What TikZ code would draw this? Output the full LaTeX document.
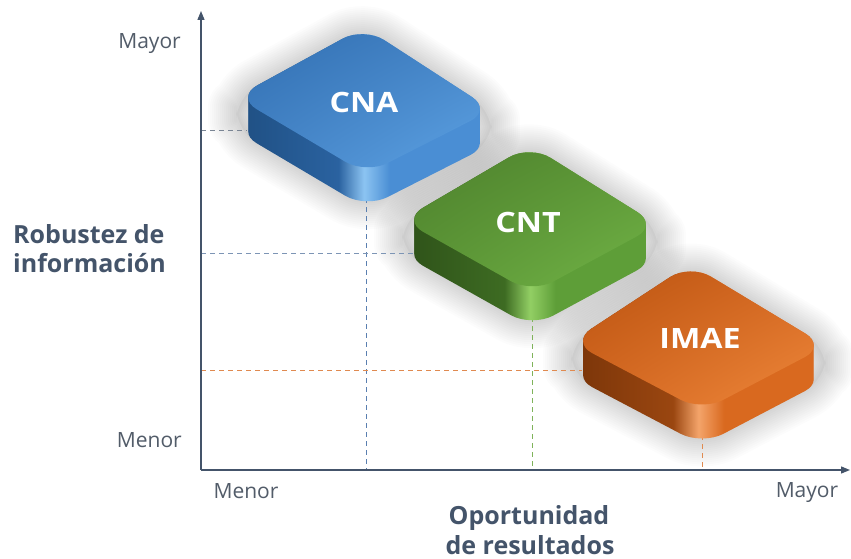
\documentclass[tikz,border=0pt]{standalone}
\usepackage{fontspec}
\setmainfont{Open Sans}
\newfontfamily\boxfont[FakeStretch=1.15]{Open Sans}
\usetikzlibrary{arrows.meta,calc,shadings}

\definecolor{axiscol}{HTML}{44546A}
\definecolor{lblcol}{HTML}{525C69}
% CNA (blue)
\definecolor{cnadark}{HTML}{1F4F82}
\definecolor{cnadarkb}{HTML}{2A62A0}
\definecolor{cnahi}{HTML}{8CC4F2}
\definecolor{cnamid}{HTML}{4A8ED4}
\definecolor{cnatopa}{HTML}{2F6DB0}
\definecolor{cnatopb}{HTML}{4584C6}
\definecolor{cnatopc}{HTML}{5EA4E6}
% CNT (green)
\definecolor{cntdark}{HTML}{2E5119}
\definecolor{cntdarkb}{HTML}{3D6B22}
\definecolor{cnthi}{HTML}{92CF64}
\definecolor{cntmid}{HTML}{5E9E38}
\definecolor{cnttopa}{HTML}{4C7F2C}
\definecolor{cnttopb}{HTML}{5C9636}
\definecolor{cnttopc}{HTML}{73B648}
% IMAE (orange)
\definecolor{imadark}{HTML}{7A3509}
\definecolor{imadarkb}{HTML}{9A4610}
\definecolor{imahi}{HTML}{F4A46A}
\definecolor{imamid}{HTML}{D9691F}
\definecolor{imatopa}{HTML}{B8520F}
\definecolor{imatopb}{HTML}{D56822}
\definecolor{imatopc}{HTML}{F08A3C}
% guide line colours
\definecolor{cnahline}{HTML}{7A8594}
\definecolor{cnavline}{HTML}{5A7FB0}
\definecolor{cnthline}{HTML}{7D95B5}
\definecolor{cntvline}{HTML}{7FB35A}
\definecolor{imaline}{HTML}{E08A50}

\pgfdeclarehorizontalshading{cnaside}{100bp}{color(0bp)=(cnadark); color(25bp)=(cnadark); color(45bp)=(cnadarkb); color(50bp)=(cnahi); color(55bp)=(cnamid); color(75bp)=(cnamid); color(100bp)=(cnamid)}
\pgfdeclarehorizontalshading{cntside}{100bp}{color(0bp)=(cntdark); color(25bp)=(cntdark); color(45bp)=(cntdarkb); color(50bp)=(cnthi); color(55bp)=(cntmid); color(75bp)=(cntmid); color(100bp)=(cntmid)}
\pgfdeclarehorizontalshading{imaside}{100bp}{color(0bp)=(imadark); color(25bp)=(imadark); color(45bp)=(imadarkb); color(50bp)=(imahi); color(55bp)=(imamid); color(75bp)=(imamid); color(100bp)=(imamid)}

\tikzset{
  axisline/.style={axiscol, line width=1.3pt, -{Triangle[length=9pt,width=7pt]}},
  guideline/.style={line width=1pt, dash pattern=on 5pt off 4pt},
  ticklbl/.style={text=lblcol, font=\fontsize{21}{25}\selectfont, inner sep=0pt},
  axislbl/.style={text=axiscol, font=\bfseries\fontsize{25}{29}\selectfont, inner sep=0pt},
  boxlbl/.style={text=white, font=\boxfont\bfseries\fontsize{28}{30}\selectfont, inner sep=0pt},
  slabround/.style={rounded corners=24pt},
}

% corners of a slab: left, top, right, bottom (top face), before rounding
\newcommand\slabcorners[9]{%
  \coordinate (#9L) at (#1,#2);
  \coordinate (#9T) at (#3,#4);
  \coordinate (#9R) at (#5,#6);
  \coordinate (#9B) at (#7,#8);
  \coordinate (#9Lb) at (#1,{#2+34});
  \coordinate (#9Rb) at (#5,{#6+34});
  \coordinate (#9Bb) at (#7,{#8+34});
  \coordinate (#9V) at (#7,{#8+24});
}
\newcommand\slabshadow[1]{%
  \fill[black, opacity=0.03, slabround, shift={(8,14)}]
      (#1L) -- (#1T) -- (#1R) -- (#1Rb) -- (#1Bb) -- (#1Lb) -- cycle;
  \foreach \w in {56,52,...,4}{
    \draw[black, draw opacity=0.011, line width=\w pt, line join=round, slabround, shift={(8,14)}]
      (#1L) -- (#1T) -- (#1R) -- (#1Rb) -- (#1Bb) -- (#1Lb) -- cycle;
  }
}
\newcommand\slab[1]{%
  \shade[shading=#1side, slabround]
    \foreach \i in {0,1,...,34}{ ($(#1L)+(0,\i)$) -- ($(#1T)+(0,\i)$) -- ($(#1R)+(0,\i)$) -- ($(#1B)+(0,\i)$) -- cycle };
  \shade[upper left=#1topa, upper right=#1topb, lower left=#1topb, lower right=#1topc, slabround]
    (#1L) -- (#1T) -- (#1R) -- (#1B) -- cycle;
}

\begin{document}
\begin{tikzpicture}[x=1pt,y=-1pt]
\useasboundingbox (0,0) rectangle (851,559);
\fill[white] (0,0) rectangle (851,559);

% axes
\coordinate (O) at (201,470);
\coordinate (ytip) at (201,11);
\coordinate (xtip) at (850,470);

% slab geometry
\slabcorners{236}{97}{364}{27}{492}{110}{366}{174}{cna}
\slabcorners{402}{220}{530}{145}{658}{225}{532}{293}{cnt}
\slabcorners{571}{342}{690}{264}{826}{346}{702}{411}{ima}

% guide points
\coordinate (cnaH) at (247,131);
\coordinate (cntH) at (413,253);
\coordinate (imaH) at (582,370);

% shadows
\slabshadow{cna}
\slabshadow{cnt}
\slabshadow{ima}

% dashed guide lines
\draw[guideline, cnahline] (O |- cnaH) -- (cnaH);
\draw[guideline, cnavline] (cnaV) -- (cnaV |- O);
\draw[guideline, cnthline] (O |- cntH) -- (cntH);
\draw[guideline, cntvline] (cntV) -- (cntV |- O);
\draw[guideline, imaline] (O |- imaH) -- (imaH);
\draw[guideline, imaline] (imaV) -- (imaV |- O);

% axes
\draw[axisline] (O) -- (ytip);
\draw[axisline] (O) -- (xtip);

% slabs
\slab{cna}
\slab{cnt}
\slab{ima}
\node[boxlbl] (cnatext) at (364,102) {CNA};
\node[boxlbl] (cnttext) at (528,222) {CNT};
\node[boxlbl] (imatext) at (700,338) {IMAE};

% tick labels
\node[ticklbl, anchor=base east] (ymax) at (181,49) {Mayor};
\node[ticklbl, anchor=base east] (ymin) at (182,447) {Menor};
\node[ticklbl, anchor=base] (xmin) at (246,498) {Menor};
\node[ticklbl, anchor=base] (xmax) at (807,497) {Mayor};

% axis titles
\node[axislbl, anchor=base west] (yt1) at (13,243) {Robustez de};
\node[axislbl, anchor=base west] (yt2) at (13,272) {información};
\node[axislbl, anchor=base] (xt1) at (529,524) {Oportunidad};
\node[axislbl, anchor=base] (xt2) at (530,554) {de resultados};
\end{tikzpicture}
\end{document}
